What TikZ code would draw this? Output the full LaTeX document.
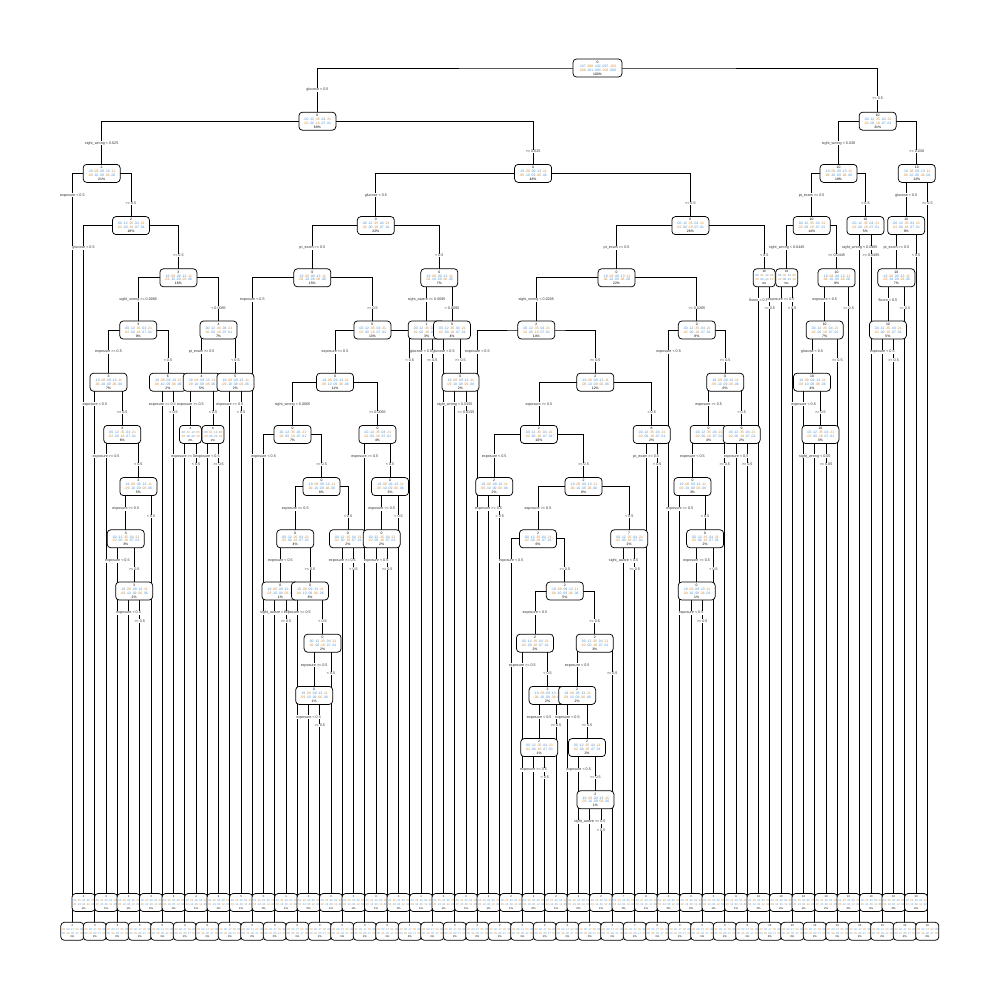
\documentclass[tikz,border=0pt]{standalone}
\usepackage{fontspec}
\setmainfont{Liberation Sans}
\usetikzlibrary{backgrounds}
\definecolor{cB}{RGB}{80,150,215}
\definecolor{cO}{RGB}{215,140,50}
\newcommand\cb[1]{\textcolor{cB}{#1}}
\newcommand\co[1]{\textcolor{cO}{#1}}
\newcommand\ra{\cb{.19} \co{.08} \cb{.09} \cb{.13} \co{.11}}
\newcommand\rb{\co{.09} \cb{.10} \cb{.09} \co{.06} \cb{.06}}
\newcommand\rc{\cb{.00} \cb{.12} \co{.35} \cb{.04} \co{.21}}
\newcommand\rd{\co{.02} \cb{.00} \co{.18} \cb{.07} \cb{.01}}
\newcommand\na{\cb{.00} \co{.31} \cb{.12} \co{.05}}
\newcommand\nb{\co{.20} \cb{.00} \cb{.22} \co{.10}}
\newcommand\la{\cb{.00} \co{.25} \cb{.00} \cb{.50} \co{.00}}
\newcommand\lb{\co{.00} \cb{.13} \cb{.00} \co{.12} \cb{.00}}
\newcommand\lc{\co{.33} \cb{.00} \cb{.17} \co{.00} \cb{.08}}
\newcommand\ld{\cb{.00} \co{.25} \cb{.00} \cb{.17} \co{.00}}
\newcommand\rta{\cb{.107} \co{.098} \cb{.102} \cb{.097} \co{.103}}
\newcommand\rtb{\co{.099} \cb{.101} \cb{.094} \co{.100} \cb{.099}}
\tikzset{
  inbox/.style={draw, line width=0.75pt, rounded corners=3.5pt, fill=white, align=center,
    inner sep=0.6pt, minimum width=37pt, minimum height=18pt, font=\fontsize{3.4}{3.9}\selectfont},
  narrowbox/.style={inbox, minimum width=22pt, font=\fontsize{2.9}{3.9}\selectfont},
  leafbox/.style={inbox, minimum width=22pt, font=\fontsize{2.7}{3.8}\selectfont},
  lbl/.style={fill=white, inner sep=0.3pt, font=\fontsize{3.7}{4}\selectfont, text=black!80},
  conn/.style={line width=0.75pt, black}
}
\newcommand\IN[5]{\ifodd#3\def\rowsX{\rc\\\rd}\else\def\rowsX{\ra\\\rb}\fi
  \node[inbox] (#1) at (#2,{69+52.2*#3}) {#4\\\rowsX\\#5};}
\newcommand\INn[5]{\node[narrowbox] (#1) at (#2,{69+52.2*#3}) {#4\\\na\\\nb\\#5};}
\newcommand\LF[3]{\ifodd#1\def\ly{902.5}\def\rowsX{\la\\\lb}\else\def\ly{931.3}\def\rowsX{\lc\\\ld}\fi
  \node[leafbox] (L#1) at ({72.3+11.25*#1},\ly) {#2\\\rowsX\\#3};}
\newcommand\BR[5]{\begin{scope}[on background layer]\draw[conn] (#2.center) |- (#1.center) -| (#3.center);\end{scope}
  \path (#2 |- #1) ++(0,22) node[lbl] {#4};
  \path (#3 |- #1) ++(0,30) node[lbl] {#5};}
\newcommand\eL{exposure < 0.5}
\newcommand\eG{exposure >= 0.5}
\newcommand\gR{>= 0.5}
\newcommand\lR{< 0.5}
\begin{document}
\begin{tikzpicture}[x=1pt,y=-1pt]
\begin{scope}[on background layer]
\fill[white] (0,0) rectangle (1000,1000);
\end{scope}
\useasboundingbox (0,0) rectangle (1000,1000);
% leaves
\LF{0}{2}{1\%}\LF{1}{2}{1\%}\LF{2}{3}{1\%}\LF{3}{3}{1\%}\LF{4}{3}{0\%}\LF{5}{3}{1\%}\LF{6}{5}{1\%}
\LF{7}{3}{2\%}\LF{8}{6}{1\%}\LF{9}{6}{1\%}\LF{10}{4}{1\%}\LF{11}{4}{1\%}\LF{12}{6}{1\%}\LF{13}{6}{1\%}
\LF{14}{5}{1\%}\LF{15}{5}{1\%}\LF{16}{0}{2\%}\LF{17}{0}{1\%}\LF{18}{0}{0\%}\LF{19}{1}{1\%}\LF{20}{0}{1\%}
\LF{21}{0}{0\%}\LF{22}{0}{1\%}\LF{23}{0}{1\%}\LF{24}{0}{1\%}\LF{25}{0}{1\%}\LF{26}{0}{1\%}\LF{27}{0}{1\%}
\LF{28}{0}{1\%}\LF{29}{0}{1\%}\LF{30}{1}{2\%}\LF{31}{1}{1\%}\LF{32}{1}{1\%}\LF{33}{0}{1\%}\LF{34}{0}{1\%}
\LF{35}{0}{1\%}\LF{36}{2}{2\%}\LF{37}{2}{1\%}\LF{38}{2}{1\%}\LF{39}{2}{1\%}\LF{40}{2}{1\%}\LF{41}{2}{0\%}
\LF{42}{2}{1\%}\LF{43}{2}{1\%}\LF{44}{2}{1\%}\LF{45}{2}{0\%}\LF{46}{2}{0\%}\LF{47}{2}{1\%}\LF{48}{2}{1\%}
\LF{49}{7}{1\%}\LF{50}{7}{1\%}\LF{51}{8}{1\%}\LF{52}{8}{1\%}\LF{53}{0}{2\%}\LF{54}{0}{1\%}\LF{55}{0}{0\%}
\LF{56}{0}{1\%}\LF{57}{0}{1\%}\LF{58}{0}{1\%}\LF{59}{9}{1\%}\LF{60}{9}{1\%}\LF{61}{10}{2\%}\LF{62}{10}{2\%}
\LF{63}{10}{2\%}\LF{64}{10}{3\%}\LF{65}{10}{1\%}\LF{66}{10}{1\%}\LF{67}{10}{2\%}\LF{68}{10}{1\%}\LF{69}{10}{2\%}
\LF{70}{10}{2\%}\LF{71}{10}{3\%}\LF{72}{10}{2\%}\LF{73}{10}{3\%}\LF{74}{10}{2\%}\LF{75}{10}{4\%}\LF{76}{10}{3\%}
% internal nodes
\node[inbox, minimum width=49pt] (n0) at (597.5,68) {0\\\rta\\\rtb\\100\%};
\IN{n1}{317.37}{1}{0}{69\%}
\IN{n2}{877.64}{1}{10}{31\%}
\IN{n3}{101.64}{2}{2}{21\%}
\IN{n4}{533.11}{2}{0}{48\%}
\IN{n5}{838.53}{2}{10}{19\%}
\IN{n6}{916.75}{2}{10}{12\%}
\IN{n7}{130.97}{3}{2}{18\%}
\IN{n21}{375.84}{3}{0}{22\%}
\IN{n22}{690.37}{3}{0}{26\%}
\IN{n66}{811.64}{3}{10}{14\%}
\IN{n67}{865.43}{3}{10}{5\%}
\IN{n73}{906.2}{3}{10}{9\%}
\IN{n8}{178.39}{4}{3}{16\%}
\IN{n23}{312.35}{4}{0}{15\%}
\IN{n24}{439.33}{4}{0}{7\%}
\IN{n41}{616.57}{4}{0}{22\%}
\INn{n42}{764.18}{4}{10}{4\%}
\INn{n68}{786.68}{4}{10}{5\%}
\IN{n69}{836.6}{4}{10}{9\%}
\IN{n74}{896.36}{4}{10}{7\%}
\IN{n9}{138.22}{5}{3}{9\%}
\IN{n10}{218.55}{5}{4}{7\%}
\IN{n25}{372.41}{5}{0}{13\%}
\IN{n38}{426.68}{5}{1}{3\%}
\IN{n39}{451.99}{5}{0}{4\%}
\IN{n43}{536.29}{5}{2}{14\%}
\IN{n44}{696.85}{5}{0}{8\%}
\IN{n70}{824.64}{5}{10}{7\%}
\IN{n75}{887.93}{5}{10}{5\%}
\IN{n11}{108.51}{6}{3}{7\%}
\IN{n12}{167.93}{6}{6}{2\%}
\IN{n17}{201.68}{6}{4}{5\%}
\IN{n18}{235.43}{6}{5}{2\%}
\IN{n26}{335.01}{6}{0}{11\%}
\IN{n40}{460.43}{6}{0}{2\%}
\IN{n45}{595.27}{6}{2}{12\%}
\IN{n60}{725.15}{6}{0}{6\%}
\IN{n71}{811.99}{6}{10}{4\%}
\IN{n13}{122.22}{7}{3}{6\%}
\INn{n19}{190.43}{7}{4}{2\%}
\INn{n20}{212.93}{7}{6}{2\%}
\IN{n27}{292.56}{7}{0}{7\%}
\IN{n28}{377.46}{7}{0}{4\%}
\IN{n46}{538.87}{7}{2}{10\%}
\IN{n47}{651.68}{7}{8}{2\%}
\IN{n61}{708.63}{7}{0}{4\%}
\IN{n62}{741.68}{7}{9}{2\%}
\IN{n72}{820.43}{7}{10}{3\%}
\IN{n14}{138.39}{8}{3}{5\%}
\IN{n29}{321.56}{8}{0}{6\%}
\IN{n36}{390.11}{8}{0}{3\%}
\IN{n48}{494.18}{8}{2}{2\%}
\IN{n49}{583.56}{8}{2}{8\%}
\IN{n63}{692.46}{8}{0}{3\%}
\IN{n15}{125.74}{9}{3}{3\%}
\IN{n30}{295.19}{9}{0}{4\%}
\IN{n31}{347.93}{9}{0}{2\%}
\IN{n37}{381.68}{9}{0}{2\%}
\IN{n50}{537.95}{9}{2}{6\%}
\IN{n51}{629.18}{9}{7}{2\%}
\IN{n64}{705.11}{9}{0}{2\%}
\IN{n16}{134.18}{10}{3}{2\%}
\IN{n32}{280.43}{10}{0}{1\%}
\IN{n33}{309.96}{10}{0}{3\%}
\IN{n52}{564.84}{10}{2}{5\%}
\IN{n65}{696.68}{10}{0}{1\%}
\IN{n34}{322.61}{11}{0}{2\%}
\IN{n53}{534.96}{11}{2}{2\%}
\IN{n54}{594.72}{11}{2}{3\%}
\IN{n35}{314.18}{12}{0}{1\%}
\IN{n55}{547.61}{12}{2}{2\%}
\IN{n57}{577.14}{12}{2}{2\%}
\IN{n56}{539.18}{13}{2}{1\%}
\IN{n58}{586.99}{13}{2}{2\%}
\IN{n59}{595.43}{14}{2}{1\%}
% branches
\BR{n0}{n1}{n2}{glucose < 0.5}{\gR}
\BR{n1}{n3}{n4}{sight\_wrong < 0.025}{>= 0.025}
\BR{n2}{n5}{n6}{sight\_wrong < 0.038}{>= 0.038}
\BR{n3}{L0}{n7}{\eL}{\gR}
\BR{n7}{L1}{n8}{glucose < 0.5}{\gR}
\BR{n8}{n9}{n10}{sight\_wrong >= 0.0085}{< 0.0085}
\BR{n9}{n11}{n12}{\eG}{\lR}
\BR{n11}{L2}{n13}{\eL}{\gR}
\BR{n13}{L3}{n14}{\eG}{\lR}
\BR{n14}{n15}{L7}{\eG}{\lR}
\BR{n15}{L4}{n16}{\eL}{\gR}
\BR{n16}{L5}{L6}{\eL}{\gR}
\BR{n12}{L8}{L9}{\eG}{\lR}
\BR{n10}{n17}{n18}{pt\_exam >= 0.5}{\lR}
\BR{n17}{n19}{n20}{\eG}{\lR}
\BR{n19}{L10}{L11}{\eG}{\lR}
\BR{n20}{L12}{L13}{\eL}{\gR}
\BR{n18}{L14}{L15}{\eG}{\lR}
\BR{n4}{n21}{n22}{glucose < 0.5}{\gR}
\BR{n21}{n23}{n24}{pt\_exam >= 0.5}{\lR}
\BR{n23}{L16}{n25}{\eL}{\gR}
\BR{n25}{n26}{L30}{\eG}{\lR}
\BR{n26}{n27}{n28}{sight\_wrong < 0.0065}{>= 0.0065}
\BR{n27}{L17}{n29}{\eL}{\gR}
\BR{n29}{n30}{n31}{\eG}{\lR}
\BR{n30}{n32}{n33}{\eL}{\gR}
\BR{n32}{L18}{L19}{sight\_aware < 0.5}{\gR}
\BR{n33}{L20}{n34}{\eG}{\lR}
\BR{n34}{n35}{L23}{\eG}{\lR}
\BR{n35}{L21}{L22}{\eL}{\gR}
\BR{n31}{L24}{L25}{\eG}{\lR}
\BR{n28}{L26}{n36}{\eG}{\lR}
\BR{n36}{n37}{L29}{\eG}{\lR}
\BR{n37}{L27}{L28}{\eL}{\gR}
\BR{n24}{n38}{n39}{sight\_aware >= 0.0095}{< 0.0095}
\BR{n38}{L31}{L32}{glucose < 0.5}{\gR}
\BR{n39}{L33}{n40}{glucose < 0.5}{\gR}
\BR{n40}{L34}{L35}{sight\_wrong < 0.0155}{>= 0.0155}
\BR{n22}{n41}{n42}{pt\_exam >= 0.5}{\lR}
\BR{n41}{n43}{n44}{sight\_wrong < 0.0205}{>= 0.0205}
\BR{n43}{L36}{n45}{\eL}{\gR}
\BR{n45}{n46}{n47}{\eG}{\lR}
\BR{n46}{n48}{n49}{\eL}{\gR}
\BR{n48}{L37}{L38}{\eG}{\lR}
\BR{n49}{n50}{n51}{\eG}{\lR}
\BR{n50}{L39}{n52}{\eL}{\gR}
\BR{n52}{n53}{n54}{\eL}{\gR}
\BR{n53}{L40}{n55}{\eG}{\lR}
\BR{n55}{n56}{L43}{\eL}{\gR}
\BR{n56}{L41}{L42}{\eG}{\lR}
\BR{n54}{n57}{L48}{\eL}{\gR}
\BR{n57}{L44}{n58}{\eL}{\gR}
\BR{n58}{L45}{n59}{\eL}{\gR}
\BR{n59}{L46}{L47}{sight\_aware >= 0.5}{\lR}
\BR{n51}{L49}{L50}{sight\_aware < 0.5}{\gR}
\BR{n47}{L51}{L52}{pt\_exam >= 0.5}{\lR}
\BR{n44}{L53}{n60}{\eL}{\gR}
\BR{n60}{n61}{n62}{\eG}{\lR}
\BR{n61}{n63}{L58}{\eL}{\gR}
\BR{n63}{L54}{n64}{\eG}{\lR}
\BR{n64}{n65}{L57}{\eG}{\lR}
\BR{n65}{L55}{L56}{\eL}{\gR}
\BR{n62}{L59}{L60}{\eL}{\gR}
\BR{n42}{L61}{L62}{fluoro < 0.5}{\gR}
\BR{n5}{n66}{n67}{pt\_exam >= 0.5}{< 0.5}
\BR{n66}{n68}{n69}{sight\_wrong < 0.0445}{>= 0.0445}
\BR{n68}{L63}{L64}{\eG}{\lR}
\BR{n69}{n70}{L69}{\eL}{\gR}
\BR{n70}{n71}{L68}{glucose < 0.5}{\gR}
\BR{n71}{L65}{n72}{\eL}{\gR}
\BR{n72}{L66}{L67}{sight\_wrong < 0.05}{>= 0.05}
\BR{n67}{L70}{L71}{sight\_wrong < 0.0485}{>= 0.0485}
\BR{n6}{n73}{L76}{glucose < 0.5}{\gR}
\BR{n73}{n74}{L75}{pt\_exam >= 0.5}{< 0.5}
\BR{n74}{n75}{L74}{fluoro < 0.5}{\gR}
\BR{n75}{L72}{L73}{\eL}{\gR}
\end{tikzpicture}
\end{document}
